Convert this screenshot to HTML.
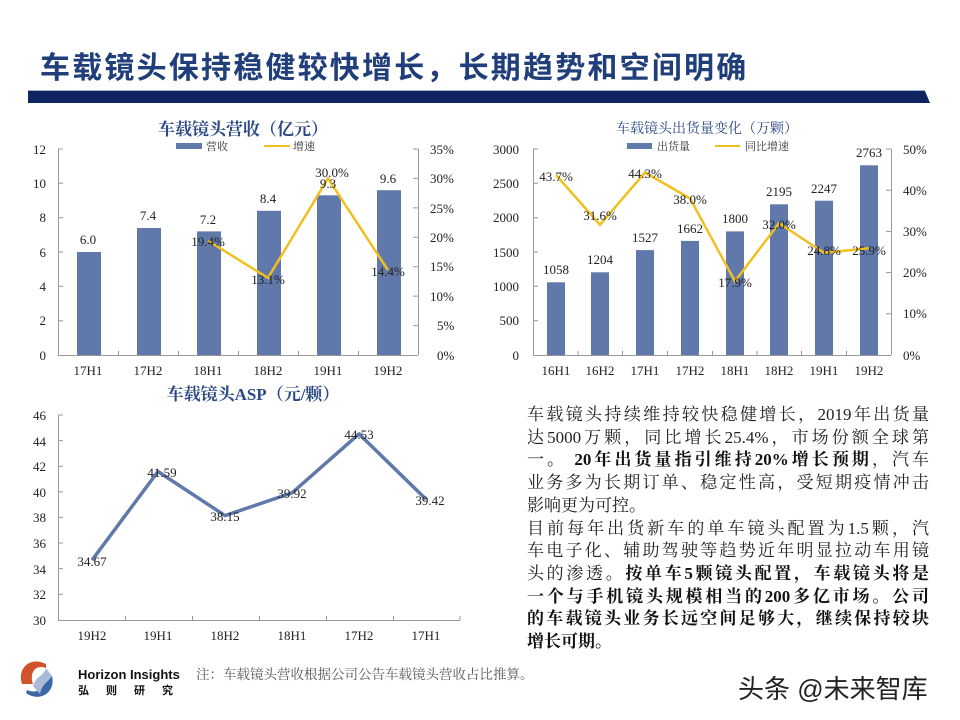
<!DOCTYPE html>
<html><head><meta charset="utf-8"><style>
body{margin:0;background:#fff;}
.wrap{position:relative;width:960px;height:720px;overflow:hidden;font-family:"Liberation Serif","Noto Serif CJK SC",serif;}
.tx{position:absolute;left:527px;top:404px;width:402px;font-size:17px;line-height:22.7px;color:#222;font-family:"Liberation Serif","Noto Serif CJK SC",serif;}
.tx div{white-space:nowrap;text-align:justify;text-align-last:justify;}
.tx div.l{text-align-last:left;}
b{font-weight:bold;color:#111;}
</style></head><body><div class="wrap">
<svg width="960" height="720" style="position:absolute;left:0;top:0" font-family="Liberation Serif, Noto Serif CJK SC, serif">
<text x="40" y="78" font-size="30" font-weight="bold" fill="#1f3e7a" letter-spacing="2.2" font-family="Liberation Sans, Noto Sans CJK SC, sans-serif">车载镜头保持稳健较快增长，长期趋势和空间明确</text>
<polygon points="28,91 925,91 930,103 28,103" fill="#0e245e"/>
<line x1="28" y1="90.5" x2="925" y2="90.5" stroke="#9fb0cf" stroke-width="1"/>

<!-- Chart 1 -->
<text x="243" y="135" font-size="17" font-weight="bold" fill="#2b4a85" text-anchor="middle">车载镜头营收（亿元）</text>
<rect x="176" y="143" width="26" height="6" fill="#5f7aab"/><text x="206" y="150" font-size="11" fill="#333">营收</text>
<line x1="264" y1="146" x2="290" y2="146" stroke="#f0c020" stroke-width="2"/><text x="293" y="150" font-size="11" fill="#333">增速</text>
<g stroke="#999" stroke-width="1" fill="none">
<line x1="58.5" y1="149" x2="58.5" y2="355"/><line x1="418.5" y1="149" x2="418.5" y2="355"/><line x1="58" y1="355.5" x2="418" y2="355.5"/>
<path d="M58 149h5M58 183.3h5M58 217.7h5M58 252h5M58 286.3h5M58 320.7h5M418 149h-5M418 178.4h-5M418 207.9h-5M418 237.3h-5M418 266.7h-5M418 296.1h-5M418 325.6h-5M118.5 355v-4M178.5 355v-4M238.5 355v-4M298.5 355v-4M358.5 355v-4"/>
</g>
<g font-size="13" fill="#222" text-anchor="end">
<text x="46" y="154">12</text><text x="46" y="188">10</text><text x="46" y="222">8</text><text x="46" y="257">6</text><text x="46" y="291">4</text><text x="46" y="325">2</text><text x="46" y="360">0</text></g>
<g font-size="13" fill="#222">
<text x="430" y="154">35%</text><text x="430" y="183">30%</text><text x="430" y="213">25%</text><text x="430" y="242">20%</text><text x="430" y="271">15%</text><text x="430" y="301">10%</text><text x="437" y="330">5%</text><text x="437" y="360">0%</text></g>
<g fill="#6079aa"><rect x="77" y="252" width="24" height="103"/><rect x="137" y="228" width="24" height="127"/><rect x="197" y="231.4" width="24" height="123.6"/><rect x="257" y="210.8" width="24" height="144.2"/><rect x="317" y="195.3" width="24" height="159.7"/><rect x="377" y="190.2" width="24" height="164.8"/></g>
<polyline points="208,240.8 268,277.9 328,178.4 388,270.2" fill="none" stroke="#f0c020" stroke-width="2.5"/>
<g font-size="13" fill="#222" text-anchor="middle">
<text x="88" y="244">6.0</text><text x="148" y="220">7.4</text><text x="208" y="224">7.2</text><text x="268" y="203">8.4</text><text x="328" y="188">9.3</text><text x="388" y="183">9.6</text>
<text x="208" y="246">19.4%</text><text x="268" y="284">13.1%</text><text x="332" y="177">30.0%</text><text x="388" y="276">14.4%</text>
<text x="88" y="375">17H1</text><text x="148" y="375">17H2</text><text x="208" y="375">18H1</text><text x="268" y="375">18H2</text><text x="328" y="375">19H1</text><text x="388" y="375">19H2</text></g>

<!-- Chart 2 -->
<text x="707" y="133" font-size="14" fill="#2b4a85" text-anchor="middle">车载镜头出货量变化（万颗）</text>
<rect x="627" y="143" width="25" height="6" fill="#5f7aab"/><text x="657" y="150" font-size="11" fill="#333">出货量</text>
<line x1="715" y1="146" x2="740" y2="146" stroke="#f0c020" stroke-width="2"/><text x="745" y="150" font-size="11" fill="#333">同比增速</text>
<g stroke="#999" stroke-width="1" fill="none">
<line x1="533.5" y1="149" x2="533.5" y2="355"/><line x1="891.5" y1="149" x2="891.5" y2="355"/><line x1="533" y1="355.5" x2="891" y2="355.5"/>
<path d="M533 149h5M533 183.3h5M533 217.7h5M533 252h5M533 286.3h5M533 320.7h5M891 149h-5M891 190.2h-5M891 231.4h-5M891 272.6h-5M891 313.8h-5M578 355v-4M622.5 355v-4M667.5 355v-4M712.5 355v-4M757 355v-4M801.5 355v-4M846.5 355v-4"/>
</g>
<g font-size="13" fill="#222" text-anchor="end">
<text x="519" y="154">3000</text><text x="519" y="188">2500</text><text x="519" y="222">2000</text><text x="519" y="257">1500</text><text x="519" y="291">1000</text><text x="519" y="325">500</text><text x="519" y="360">0</text></g>
<g font-size="13" fill="#222">
<text x="903" y="154">50%</text><text x="903" y="195">40%</text><text x="903" y="236">30%</text><text x="903" y="277">20%</text><text x="903" y="318">10%</text><text x="903" y="360">0%</text></g>
<g fill="#6079aa"><rect x="547" y="282.3" width="18" height="72.7"/><rect x="591" y="272.3" width="18" height="82.7"/><rect x="636" y="250.1" width="18" height="104.9"/><rect x="681" y="240.9" width="18" height="114.1"/><rect x="726" y="231.4" width="18" height="123.6"/><rect x="770" y="204.3" width="18" height="150.7"/><rect x="815" y="200.7" width="18" height="154.3"/><rect x="860" y="165.3" width="18" height="189.7"/></g>
<polyline points="556,175 600,224.8 645,172.5 690,198.4 735,281.3 779,223.2 824,252.8 869,248.3" fill="none" stroke="#f0c020" stroke-width="2.5"/>
<g font-size="13" fill="#222" text-anchor="middle">
<text x="556" y="274">1058</text><text x="600" y="264">1204</text><text x="645" y="242">1527</text><text x="690" y="233">1662</text><text x="735" y="223">1800</text><text x="779" y="196">2195</text><text x="824" y="193">2247</text><text x="869" y="157">2763</text>
<text x="556" y="181">43.7%</text><text x="600" y="220">31.6%</text><text x="645" y="178">44.3%</text><text x="690" y="204">38.0%</text><text x="735" y="287">17.9%</text><text x="779" y="229">32.0%</text><text x="824" y="255">24.8%</text><text x="869" y="255">25.9%</text>
<text x="556" y="375">16H1</text><text x="600" y="375">16H2</text><text x="645" y="375">17H1</text><text x="690" y="375">17H2</text><text x="735" y="375">18H1</text><text x="779" y="375">18H2</text><text x="824" y="375">19H1</text><text x="869" y="375">19H2</text></g>

<!-- Chart 3 -->
<text x="253" y="400" font-size="17" font-weight="bold" fill="#2b4a85" text-anchor="middle">车载镜头ASP（元/颗）</text>
<g stroke="#999" stroke-width="1" fill="none">
<line x1="58.5" y1="415" x2="58.5" y2="620"/><line x1="58" y1="620.5" x2="460" y2="620.5"/>
<path d="M58 415h5M58 440.6h5M58 466.2h5M58 491.8h5M58 517.4h5M58 543h5M58 568.6h5M58 594.2h5M125.5 620v-4M192.5 620v-4M259.5 620v-4M326.5 620v-4M393.5 620v-4M460 620v-4"/>
</g>
<g font-size="13" fill="#222" text-anchor="end">
<text x="46" y="420">46</text><text x="46" y="446">44</text><text x="46" y="471">42</text><text x="46" y="497">40</text><text x="46" y="522">38</text><text x="46" y="548">36</text><text x="46" y="574">34</text><text x="46" y="599">32</text><text x="46" y="625">30</text></g>
<polyline points="92,560.2 158,471.5 225,515.6 292,492.9 359,433.9 426,499.3" fill="none" stroke="#6079aa" stroke-width="3.5" stroke-linejoin="round"/>
<g font-size="13" fill="#222" text-anchor="middle">
<text x="92" y="566">34.67</text><text x="162" y="477">41.59</text><text x="225" y="521">38.15</text><text x="292" y="498">39.92</text><text x="359" y="439">44.53</text><text x="430" y="505">39.42</text>
<text x="92" y="640">19H2</text><text x="158" y="640">19H1</text><text x="225" y="640">18H2</text><text x="292" y="640">18H1</text><text x="359" y="640">17H2</text><text x="426" y="640">17H1</text></g>

<!-- footer -->
<path d="M46 664 C30 656 17 668 22 684 L33 684 C29 672 36 664 46 668 Z" fill="#d0532c"/>
<path d="M26 693 C40 703 56 692 52 676 L42 678 C45 690 36 694 27 690 Z" fill="#3d66a6"/>
<path d="M33 686 C36 676 44 676 46 668 L52 676 C48 682 42 684 40 694 Z" fill="#a9b9d6"/>
<text x="78" y="679" font-size="13" font-weight="bold" fill="#111" font-family="Liberation Sans, sans-serif">Horizon Insights</text>
<text x="78" y="694" font-size="11" font-weight="bold" fill="#111" font-family="Liberation Sans, Noto Sans CJK SC, sans-serif" letter-spacing="17">弘则研究</text>
<text x="196" y="679" font-size="13.5" fill="#555">注：车载镜头营收根据公司公告车载镜头营收占比推算。</text>
<text x="738" y="698" font-size="26" fill="#222" font-family="Liberation Sans, Noto Sans CJK SC, sans-serif">头条 @未来智库</text>
</svg>
<div class="tx">
<div>车载镜头持续维持较快稳健增长，2019年出货量</div>
<div>达5000万颗，同比增长25.4%，市场份额全球第</div>
<div>一。 <b>20年出货量指引维持20%增长预期</b>，汽车</div>
<div>业务多为长期订单、稳定性高，受短期疫情冲击</div>
<div class="l">影响更为可控。</div>
<div>目前每年出货新车的单车镜头配置为1.5颗，汽</div>
<div>车电子化、辅助驾驶等趋势近年明显拉动车用镜</div>
<div>头的渗透。<b>按单车5颗镜头配置，车载镜头将是</b></div>
<div><b>一个与手机镜头规模相当的200多亿市场。公司</b></div>
<div><b>的车载镜头业务长远空间足够大，继续保持较块</b></div>
<div class="l"><b>增长可期。</b></div>
</div>
</div></body></html>
